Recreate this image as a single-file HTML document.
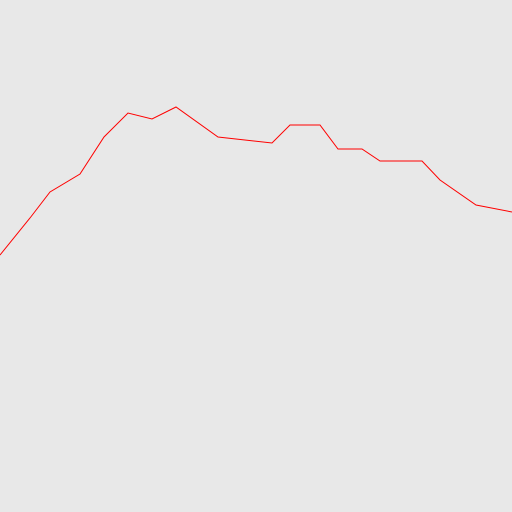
<!DOCTYPE html>
<html><head><meta charset="utf-8"><style>
html,body{margin:0;padding:0;background:#e8e8e8;}
svg{display:block;}
</style></head><body>
<svg id="chart" width="512" height="512" xmlns="http://www.w3.org/2000/svg">
<rect width="512" height="512" fill="#e8e8e8"></rect>
</svg>
<script>
const xValues = [0, 30, 50, 80, 104, 128, 152, 176, 218, 272, 290, 320, 338, 362, 380, 422, 440, 476, 512];
const yValues = [257, 294, 320, 338, 375, 399, 393, 405, 375, 369, 387, 387, 363, 363, 351, 351, 332, 307, 300];
const xMin = 0, xMax = 512, yMin = 0, yMax = 512;
function sx(v){ return (v - xMin) / (xMax - xMin) * 512; }
function sy(v){ return 512 - (v - yMin) / (yMax - yMin) * 512; }
const svg = document.getElementById('chart');
const pts = xValues.map((x,i)=>sx(x).toFixed(1)+','+sy(yValues[i]).toFixed(1)).join(' ');
const line = document.createElementNS('http://www.w3.org/2000/svg','polyline');
line.setAttribute('points', pts);
line.setAttribute('fill','none');
line.setAttribute('stroke','#ff0000');
line.setAttribute('stroke-width','1');


svg.appendChild(line);
</script>
</body></html>
